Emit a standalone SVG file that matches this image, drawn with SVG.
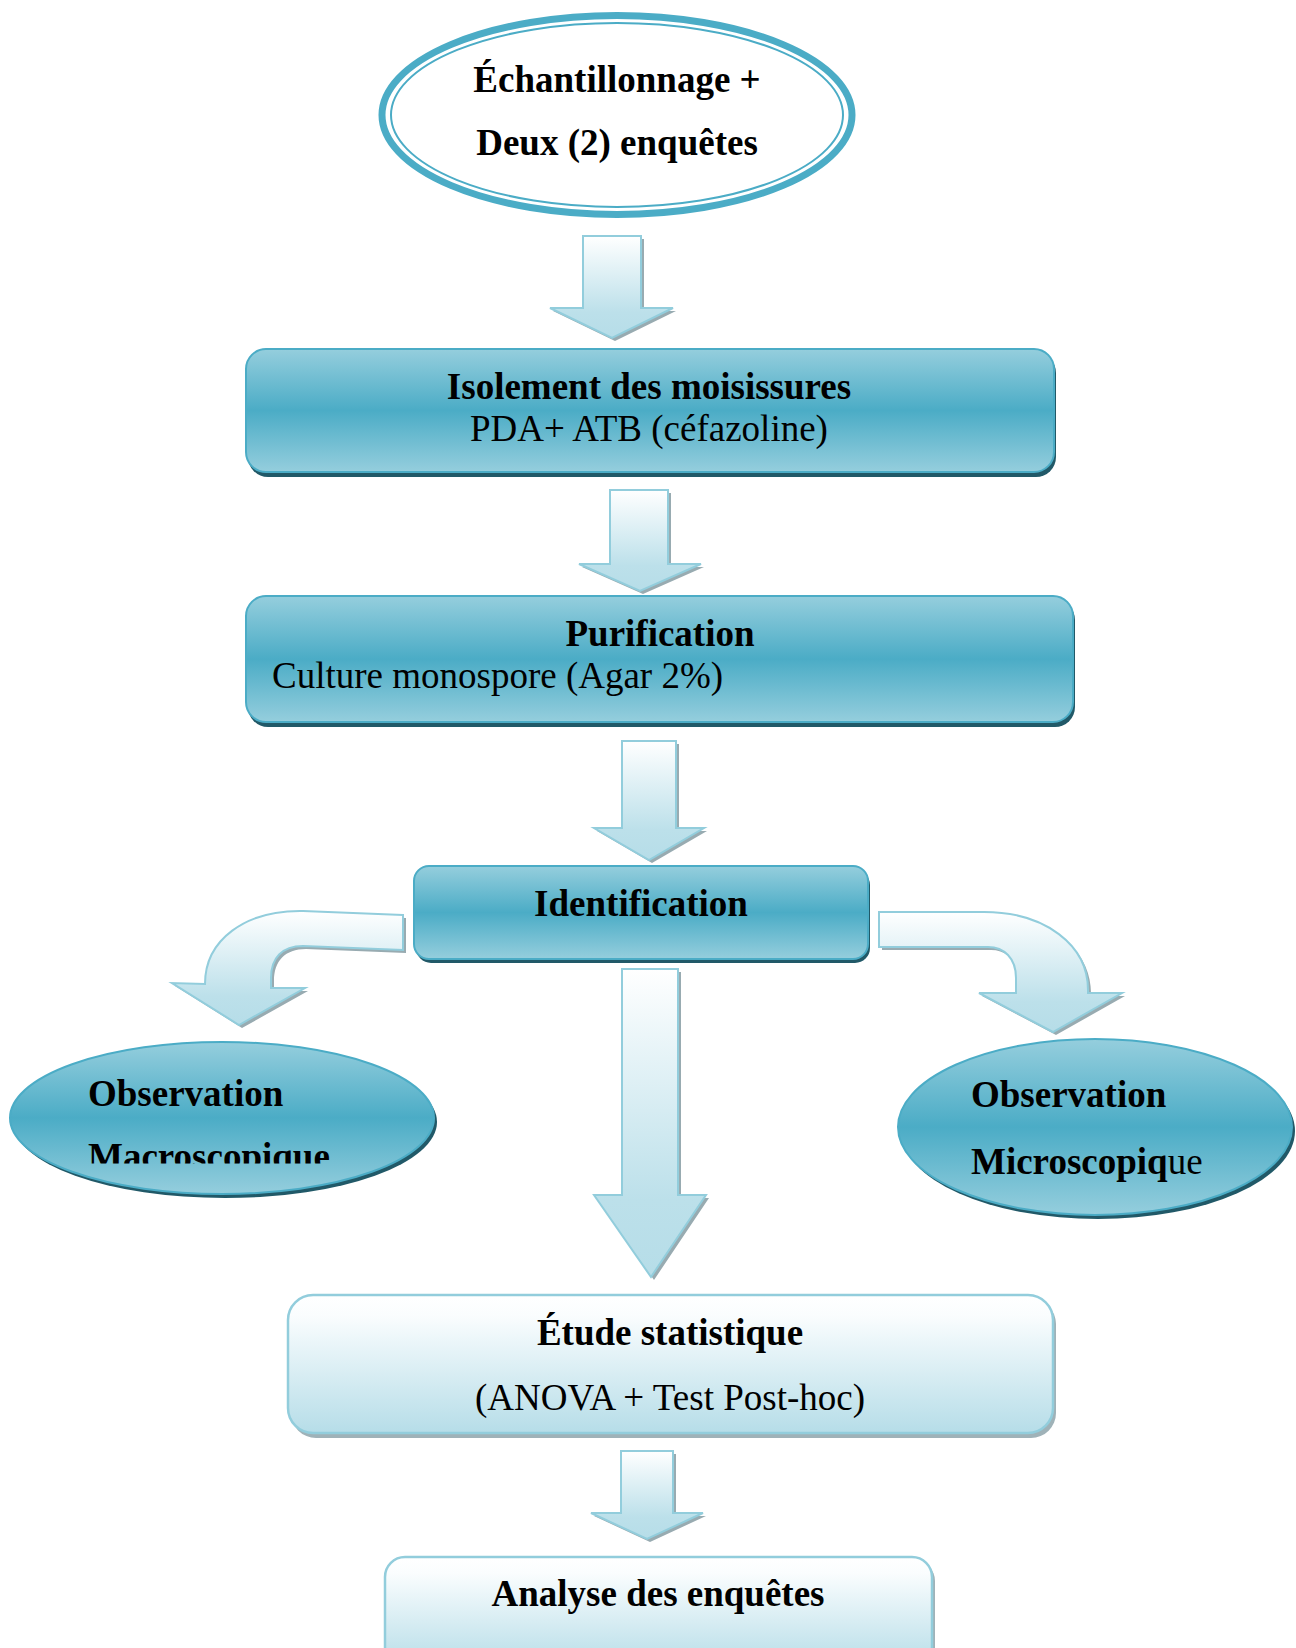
<svg xmlns="http://www.w3.org/2000/svg" width="1296" height="1648" viewBox="0 0 1296 1648">
<defs>
<linearGradient id="gDark" x1="0" y1="0" x2="0" y2="1">
<stop offset="0" stop-color="#95CEDD"/><stop offset="0.5" stop-color="#4BACC6"/><stop offset="1" stop-color="#95CEDD"/>
</linearGradient>
<linearGradient id="gLight" x1="0" y1="0" x2="0" y2="1">
<stop offset="0" stop-color="#FFFFFF"/><stop offset="0.15" stop-color="#FAFDFE"/><stop offset="1" stop-color="#B6DDE8"/>
</linearGradient>
<linearGradient id="gArrow" x1="0" y1="0" x2="0" y2="1">
<stop offset="0" stop-color="#FFFFFF"/><stop offset="0.75" stop-color="#BCE0EA"/><stop offset="1" stop-color="#B6DDE8"/>
</linearGradient>
<clipPath id="clipMacro"><rect x="0" y="1100" width="700" height="63.5"/></clipPath>
<style>
.t{font-family:"Liberation Serif","Times New Roman",serif;font-size:37px;fill:#000}
.b{font-weight:bold}
.c{text-anchor:middle}
.dark{fill:url(#gDark);stroke:#4BACC6;stroke-width:2}
.dshadow{fill:#215968}
.light{fill:url(#gLight);stroke:#92CDDC;stroke-width:2.5}
.lshadow{fill:#9FB2B8}
.arrow{fill:url(#gArrow);stroke:#92CDDC;stroke-width:2}
.ashadow{fill:#98ABB1}
</style>
</defs>
<rect width="1296" height="1648" fill="#FFFFFF"/>

<g id="connectors">
<g id="arrow1">
<path class="ashadow" d="M586,239 H644 V311 H676 L615,341 L553,311 H586 Z"/>
<path class="arrow" d="M583,236 H641 V308 H673 L612,338 L550,308 H583 Z"/>
</g>
<g id="arrow2">
<path class="ashadow" d="M613,493 H671 V567 H704 L643,594 L582,567 H613 Z"/>
<path class="arrow" d="M610,490 H668 V564 H701 L640,591 L579,564 H610 Z"/>
</g>
<g id="arrow3">
<path class="ashadow" d="M625,744 H679 V831 H707 L652,863 L597,831 H625 Z"/>
<path class="arrow" d="M622,741 H676 V828 H704 L649,860 L594,828 H622 Z"/>
</g>
<g id="arrowLeft">
<path class="ashadow" d="M406,918 L306,914 C248,913 208,943 208,987 L175,986 L242,1028 L308,991 L274,991 L274,981 C274,961 285,949 306,949 L406,953 Z"/>
<path class="arrow" d="M403,915 L303,911 C245,910 205,940 205,984 L172,983 L239,1025 L305,988 L271,988 L271,978 C271,958 282,946 303,946 L403,950 Z"/>
</g>
<g id="arrowRight">
<path class="ashadow" d="M882,915 L987,915 C1048,915 1091,948 1091,993 L1091,996 L1125,996 L1056,1035 L982,996 L1019,996 L1019,981 C1019,961 1007,950 991,950 L882,950 Z"/>
<path class="arrow" d="M879,912 L984,912 C1045,912 1088,945 1088,990 L1088,993 L1122,993 L1053,1032 L979,993 L1016,993 L1016,978 C1016,958 1004,947 988,947 L879,947 Z"/>
</g>
<g id="arrowCenter">
<path class="ashadow" d="M625,972 H681 V1198 H709 L654,1280 L597,1198 H625 Z"/>
<path class="arrow" d="M622,969 H678 V1195 H706 L651,1277 L594,1195 H622 Z"/>
</g>
<g id="arrow5">
<path class="ashadow" d="M624,1454 H676 V1516 H706 L650,1542 L594,1516 H624 Z"/>
<path class="arrow" d="M621,1451 H673 V1513 H703 L647,1539 L591,1513 H621 Z"/>
</g>
</g>

<g id="node-echantillonnage">
<ellipse cx="617" cy="115" rx="235" ry="99.5" fill="#FFFFFF" stroke="#4BACC6" stroke-width="7"/>
<ellipse cx="617" cy="115" rx="226" ry="92" fill="none" stroke="#4BACC6" stroke-width="2"/>
<text class="t b c" x="617" y="92">Échantillonnage +</text>
<text class="t b c" x="617" y="155">Deux (2) enquêtes</text>
</g>

<g id="node-isolement">
<rect class="dshadow" x="248" y="353" width="808" height="124" rx="20"/>
<rect class="dark" x="246" y="349" width="808" height="123" rx="20"/>
<text class="t b c" x="649" y="399">Isolement des moisissures</text>
<text class="t c" x="649" y="441">PDA+ ATB (céfazoline)</text>
</g>

<g id="node-purification">
<rect class="dshadow" x="248" y="600" width="827" height="127" rx="20"/>
<rect class="dark" x="246" y="596" width="827" height="126" rx="20"/>
<text class="t b c" x="660" y="646">Purification</text>
<text class="t" x="272" y="688">Culture monospore (Agar 2%)</text>
</g>

<g id="node-identification">
<rect class="dshadow" x="416" y="870" width="454" height="93" rx="15"/>
<rect class="dark" x="414" y="866" width="454" height="93" rx="15"/>
<text class="t b c" x="641" y="916">Identification</text>
</g>

<g id="node-macroscopique">
<ellipse class="dshadow" cx="225" cy="1122" rx="212" ry="76"/>
<ellipse class="dark" cx="222" cy="1118" rx="212" ry="76"/>
<text class="t b" x="88" y="1106">Observation</text>
<text class="t b" x="88" y="1169" clip-path="url(#clipMacro)">Macroscopique</text>
</g>

<g id="node-microscopique">
<ellipse class="dshadow" cx="1098" cy="1131" rx="197" ry="88"/>
<ellipse class="dark" cx="1095" cy="1127" rx="197" ry="88"/>
<text class="t b" x="971" y="1107">Observation</text>
<text class="t" x="971" y="1174"><tspan class="b">Microscopiq</tspan>ue</text>
</g>

<g id="node-statistique">
<rect class="lshadow" x="291" y="1299" width="765" height="139" rx="25"/>
<rect class="light" x="288" y="1295" width="765" height="138" rx="25"/>
<text class="t b c" x="670" y="1345">Étude statistique</text>
<text class="t c" x="670" y="1410">(ANOVA + Test Post-hoc)</text>
</g>

<g id="node-analyse">
<rect class="lshadow" x="388" y="1561" width="547" height="110" rx="20"/>
<rect class="light" x="385" y="1557" width="547" height="110" rx="20"/>
<text class="t b c" x="658" y="1606">Analyse des enquêtes</text>
</g>
</svg>
